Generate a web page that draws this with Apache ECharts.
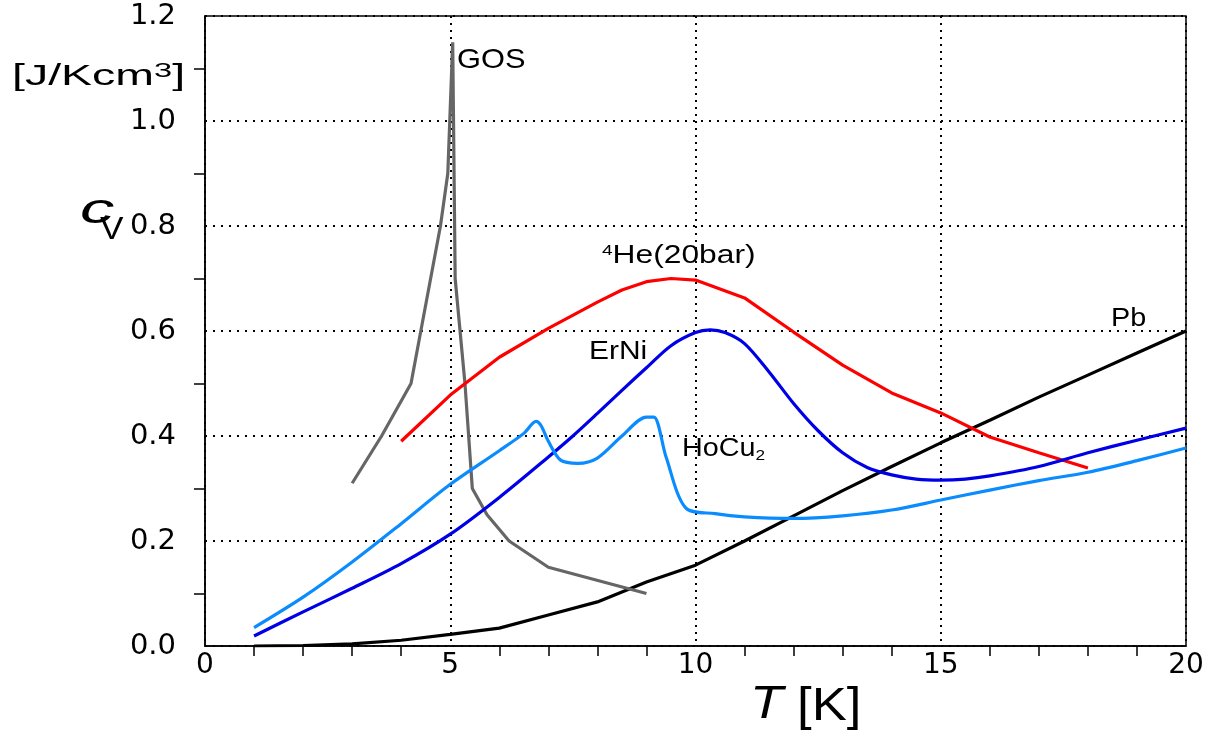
<!DOCTYPE html>
<html>
<head>
<meta charset="utf-8">
<script src="https://cdn.jsdelivr.net/npm/echarts@6/dist/echarts.min.js"></script>
<style>
    html, body { margin: 0; padding: 0; background: #fff; }
    #chart { width: 1223px; height: 738px; }
</style>
</head>
<body>
<div id="chart"></div>
<script>
    // heat capacity c_V [J/Kcm3] vs T [K]
    const gosT = [3.0, 3.6, 4.2, 4.6, 4.8, 4.95, 5.05, 5.1, 5.3, 5.45, 5.75, 6.2, 7.0, 9.0]
    const gosC = [0.31, 0.40, 0.50, 0.70, 0.80, 0.90, 1.15, 0.70, 0.50, 0.30, 0.25, 0.20, 0.15, 0.10]

    const heT = [4, 5, 6, 7, 8, 8.5, 9, 9.5, 10, 11, 12, 13, 14, 15, 16, 17, 18]
    const heC = [0.39, 0.478, 0.55, 0.605, 0.655, 0.678, 0.694, 0.70, 0.697, 0.663, 0.598, 0.535, 0.482, 0.444, 0.398, 0.368, 0.339]

    const erniT = [1, 2, 3, 4, 5, 6, 7, 7.5, 8, 8.5, 9, 9.5, 10, 10.3, 10.6, 11, 11.5, 12, 12.5, 13, 13.5, 14, 14.5, 15, 15.5, 16, 17, 18, 19, 20]
    const erniC = [0.019, 0.065, 0.11, 0.157, 0.213, 0.283, 0.36, 0.40, 0.443, 0.487, 0.53, 0.572, 0.597, 0.602, 0.597, 0.576, 0.522, 0.462, 0.41, 0.368, 0.34, 0.326, 0.318, 0.316, 0.318, 0.324, 0.342, 0.368, 0.392, 0.415]

    const hocuT = [1, 2, 3, 4, 5, 6, 6.5, 6.75, 6.85, 7, 7.25, 7.6, 8, 8.5, 9, 9.15, 9.4, 9.8, 10.4, 11, 12, 13, 14, 15, 16, 17, 18, 19, 20]
    const hocuC = [0.035, 0.093, 0.16, 0.233, 0.308, 0.372, 0.405, 0.428, 0.42, 0.39, 0.354, 0.348, 0.358, 0.40, 0.436, 0.436, 0.36, 0.263, 0.252, 0.246, 0.243, 0.248, 0.259, 0.278, 0.297, 0.315, 0.331, 0.353, 0.377]

    const pbT = [1, 2, 3, 4, 5, 6, 7, 8, 9, 10, 11, 12, 13, 14, 15, 16, 17, 18, 19, 20]
    const pbC = [0.0, 0.001, 0.004, 0.011, 0.022, 0.034, 0.059, 0.084, 0.122, 0.154, 0.20, 0.248, 0.296, 0.342, 0.387, 0.43, 0.474, 0.516, 0.558, 0.60]

    const zip = (xs, ys) => xs.map((x, i) => [x, ys[i]])

    const font = 'Liberation Sans, Arial, sans-serif'
    const tickFont = 'DejaVu Sans, sans-serif'

    let myChart = echarts.init(document.getElementById('chart'))

    function line(name, data, color, smooth) {
        return {
            name: name,
            type: 'line',
            data: data,
            smooth: smooth,
            symbol: 'none',
            lineStyle: { color: color, width: 3.2 },
            z: 3
        }
    }

    // text placed by its left edge and vertical middle, stretched sideways like the original
    function label(x, y, text, sx, rich, fontStr) {
        return {
            type: 'text', x: x, y: y, scaleX: sx, z: 10,
            style: {
                text: text, x: 0, y: 0, rich: rich,
                font: fontStr || '25px ' + font,
                fill: '#000', align: 'left', verticalAlign: 'middle'
            }
        }
    }

    myChart.setOption({
        animation: false,
        grid: {
            left: 205, right: 37, top: 16, bottom: 92,
            show: true, borderColor: '#000', borderWidth: 1.5
        },
        xAxis: {
            type: 'value',
            min: 0, max: 20, interval: 5,
            axisLine: { lineStyle: { color: '#000', width: 1.5 } },
            axisTick: { show: false },
            minorTick: { show: true, splitNumber: 5, length: 10, lineStyle: { color: '#000', width: 1.5 } },
            axisLabel: { color: '#000', fontSize: 28, fontFamily: tickFont, margin: 6 },
            splitLine: { show: true, lineStyle: { color: '#000', width: 2, type: [2, 5] } }
        },
        yAxis: {
            type: 'value',
            min: 0, max: 1.2, interval: 0.2,
            axisLine: { lineStyle: { color: '#000', width: 1.5 } },
            axisTick: { show: false },
            minorTick: { show: true, splitNumber: 2, length: 11, lineStyle: { color: '#000', width: 1.5 } },
            axisLabel: {
                color: '#000', fontSize: 29, fontFamily: tickFont, margin: 29,
                formatter: v => v.toFixed(1)
            },
            splitLine: { show: true, lineStyle: { color: '#000', width: 2, type: [2, 6] } }
        },
        graphic: [
            label(12, 77, '{n|[J/Kcm}{s|3}{n|]}', 1.55, {
                n: { font: '30px ' + font, fill: '#000' },
                s: { font: '21px ' + font, fill: '#000', padding: [0, 0, 12, 0] }
            }),
            label(80, 211, '{c|c}', 1.6, {
                c: { font: 'italic 43px ' + font, fill: '#000' }
            }),
            label(100, 230, 'V', 1.1, null, '32px ' + font),
            label(750, 705, '{t|T}', 1.15, {
                t: { font: 'italic 47px ' + font, fill: '#000' }
            }),
            label(797, 707, '[K]', 1.12, null, '47px ' + font),
            label(457, 60, 'GOS', 1.1, null, '28px ' + font),
            label(602, 256, '{s|4}{n|He(20bar)}', 1.27, {
                s: { font: '15px ' + font, fill: '#000', padding: [0, 0, 10, 0] },
                n: { font: '25px ' + font, fill: '#000' }
            }),
            label(589, 352, 'ErNi', 1.15, null, '26px ' + font),
            label(682, 449, '{n|HoCu}{s|2}', 1.15, {
                n: { font: '25px ' + font, fill: '#000' },
                s: { font: '15px ' + font, fill: '#000', padding: [14, 0, 0, 0] }
            }),
            label(1111, 319, 'Pb', 1.15, null, '25px ' + font)
        ],
        series: [
            line('Pb', zip(pbT, pbC), '#000000', false),
            line('GOS', zip(gosT, gosC), '#666666', false),
            line('4He(20bar)', zip(heT, heC), '#ff0000', false),
            line('ErNi', zip(erniT, erniC), '#0000e6', 0.3),
            line('HoCu2', zip(hocuT, hocuC), '#0a8cff', 0.3)
        ]
    })
</script>
</body>
</html>
